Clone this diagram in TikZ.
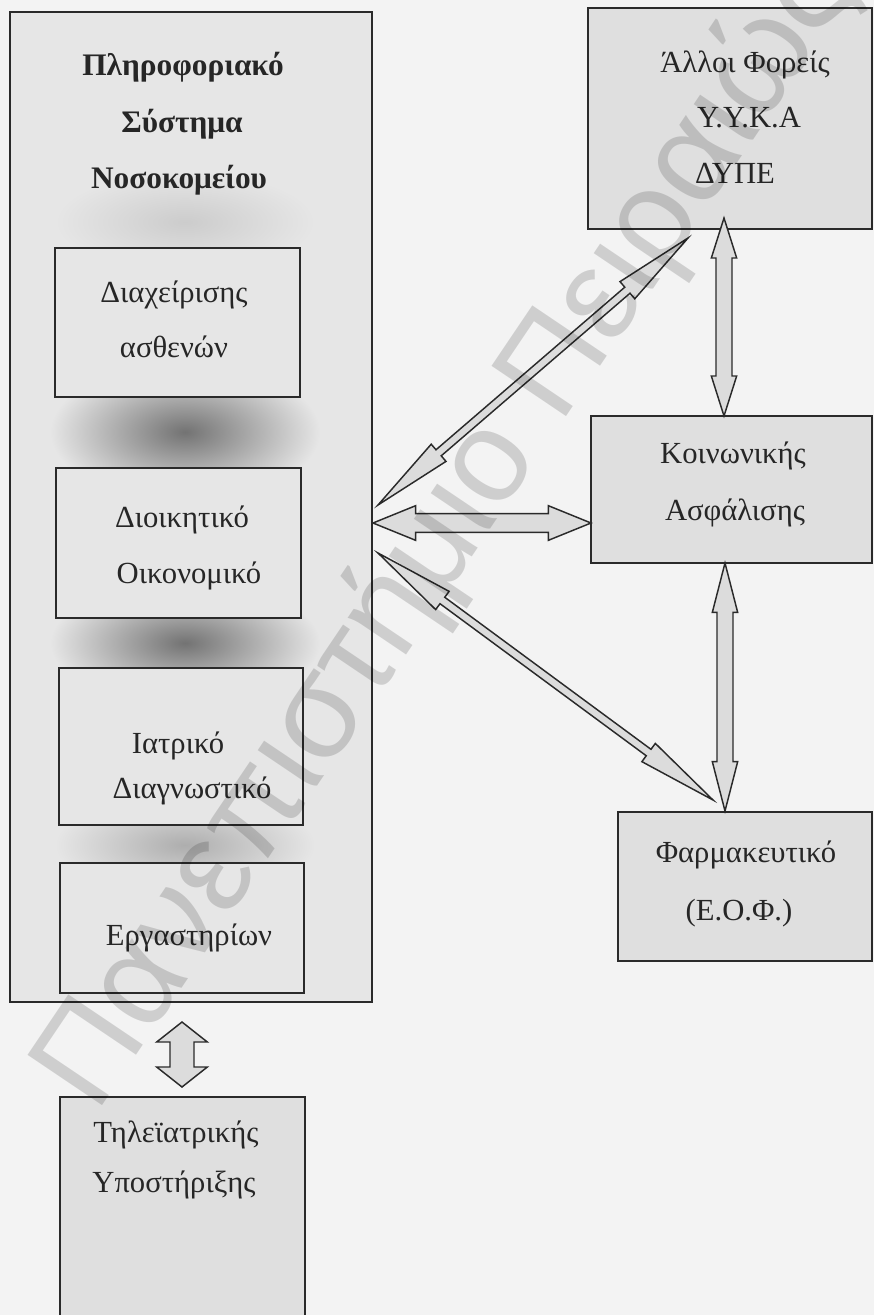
\documentclass[tikz,border=0pt]{standalone}
\usepackage{fontspec}
\setmainfont{Liberation Serif}
\newfontfamily\wmfont{Liberation Sans}
\usetikzlibrary{calc}
\definecolor{bg}{HTML}{F3F3F3}
\definecolor{boxfill}{HTML}{E6E6E6}
\definecolor{rbox}{HTML}{DFDFDF}
\definecolor{arrfill}{HTML}{DCDCDC}
\definecolor{edge}{HTML}{2A2A2A}
\tikzset{
  box/.style={draw=edge, line width=1.4pt, fill=boxfill, inner sep=0pt, outer sep=0pt},
  rboxst/.style={box, fill=rbox},
  txt/.style={anchor=base, inner sep=0pt, text=black!85, font=\fontsize{23}{23}\selectfont},
  ttl/.style={txt, font=\bfseries\fontsize{23.5}{23.5}\selectfont},
  fatarr/.style={draw=edge, line width=1.1pt, fill=arrfill, line join=miter},
  shadow/.style={inner color=black!55, outer color=boxfill},
}
% #1 from, #2 to, #3 shaft half width, #4 head half width, #5 head length
\newcommand\fatarrow[5]{%
 \filldraw[fatarr] let \p1=(#1), \p2=(#2), \n1={atan2(\y2-\y1,\x2-\x1)}, \n2={\n1+90}, \n3={\n1-90}, \n4={\n1+180} in
 (\p1) -- ($(\p1)+(\n1:#5)+(\n2:#4)$) -- ($(\p1)+(\n1:#5)+(\n2:#3)$)
 -- ($(\p2)+(\n4:#5)+(\n2:#3)$) -- ($(\p2)+(\n4:#5)+(\n2:#4)$) -- (\p2)
 -- ($(\p2)+(\n4:#5)+(\n3:#4)$) -- ($(\p2)+(\n4:#5)+(\n3:#3)$)
 -- ($(\p1)+(\n1:#5)+(\n3:#3)$) -- ($(\p1)+(\n1:#5)+(\n3:#4)$) -- cycle;}
% #1 name, #2 x1, #3 y1, #4 x2, #5 y2, #6 style
\newcommand\boxat[6]{%
 \node[#6, minimum width={(#4-#2)*0.75pt}, minimum height={(#5-#3)*0.75pt}] (#1) at ({(#2+#4)/2},{(#3+#5)/2}) {};}
\begin{document}
\begin{tikzpicture}[x=0.75pt,y=-0.75pt]
\useasboundingbox (0,0) rectangle (874,1315);
\clip (0,0) rectangle (874,1315);
\fill[bg] (0,0) rectangle (874,1315);

% main hospital system box
\boxat{his}{10}{12}{372}{1002}{box}
\shade[shadow, inner color=black!20] (185,222) ellipse [x radius=130, y radius=50];
\shade[shadow] (185,432) ellipse [x radius=135, y radius=70];
\shade[shadow] (185,643) ellipse [x radius=135, y radius=62];
\shade[shadow, inner color=black!32] (185,845) ellipse [x radius=130, y radius=50];

\node[ttl] (t1) at (183,75) {Πληροφοριακό};
\node[ttl] (t2) at (182,132) {Σύστημα};
\node[ttl] (t3) at (179,188) {Νοσοκομείου};

\boxat{b1}{55}{248}{300}{397}{box}
\boxat{b2}{56}{468}{301}{618}{box}
\boxat{b3}{59}{668}{303}{825}{box}
\boxat{b4}{60}{863}{304}{993}{box}
\boxat{tele}{60}{1097}{305}{1330}{rboxst}

\node[txt] (b1a) at (174,302) {Διαχείρισης};
\node[txt] (b1b) at (174,357) {ασθενών};
\node[txt] (b2a) at (182,527) {Διοικητικό};
\node[txt] (b2b) at (189,583) {Οικονομικό};
\node[txt] (b3a) at (178,753) {Ιατρικό};
\node[txt] (b3b) at (192,798) {Διαγνωστικό};
\node[txt] (b4a) at (189,945) {Εργαστηρίων};
\node[txt] (tea) at (176,1142) {Τηλεϊατρικής};
\node[txt] (teb) at (174,1192) {Υποστήριξης};

% right boxes
\boxat{oth}{588}{8}{872}{229}{rboxst}
\boxat{ins}{591}{416}{872}{563}{rboxst}
\boxat{eof}{618}{812}{872}{961}{rboxst}

\node[txt] (oa) at (745,72) {Άλλοι Φορείς};
\node[txt] (ob) at (749,127) {Υ.Υ.Κ.Α};
\node[txt] (oc) at (735,183) {ΔΥΠΕ};
\node[txt] (ia) at (733,463) {Κοινωνικής};
\node[txt] (ib) at (735,520) {Ασφάλισης};
\node[txt] (fa) at (746,862) {Φαρμακευτικό};
\node[txt] (fb) at (739,920) {(Ε.Ο.Φ.)};

% connector end points
\coordinate (v1a) at (724,218);
\coordinate (v1b) at (724,416);
\coordinate (v2a) at (725,563);
\coordinate (v2b) at (725,811);
\coordinate (ha) at (373,523);
\coordinate (hb) at (591,523);
\coordinate (d1a) at (378,505);
\coordinate (d1b) at (688,238);
\coordinate (d2a) at (378,553);
\coordinate (d2b) at (713,800);
\coordinate (ba) at (182,1022);
\coordinate (bb) at (182,1087);

\fatarrow{v1a}{v1b}{6pt}{9.5pt}{30pt}
\fatarrow{v2a}{v2b}{6pt}{9.5pt}{37pt}
\fatarrow{ha}{hb}{7pt}{13pt}{32pt}
\fatarrow{d1a}{d1b}{3pt}{8.5pt}{60pt}
\fatarrow{d2a}{d2b}{3pt}{8.5pt}{60pt}
\fatarrow{ba}{bb}{9pt}{19pt}{15pt}

% watermark
\node[rotate=56, text=black, opacity=0.15, font=\wmfont\fontsize{98}{98}\selectfont] (wm) at (446,532) {Πανεπιστήμιο Πειραιώς};
\end{tikzpicture}
\end{document}
